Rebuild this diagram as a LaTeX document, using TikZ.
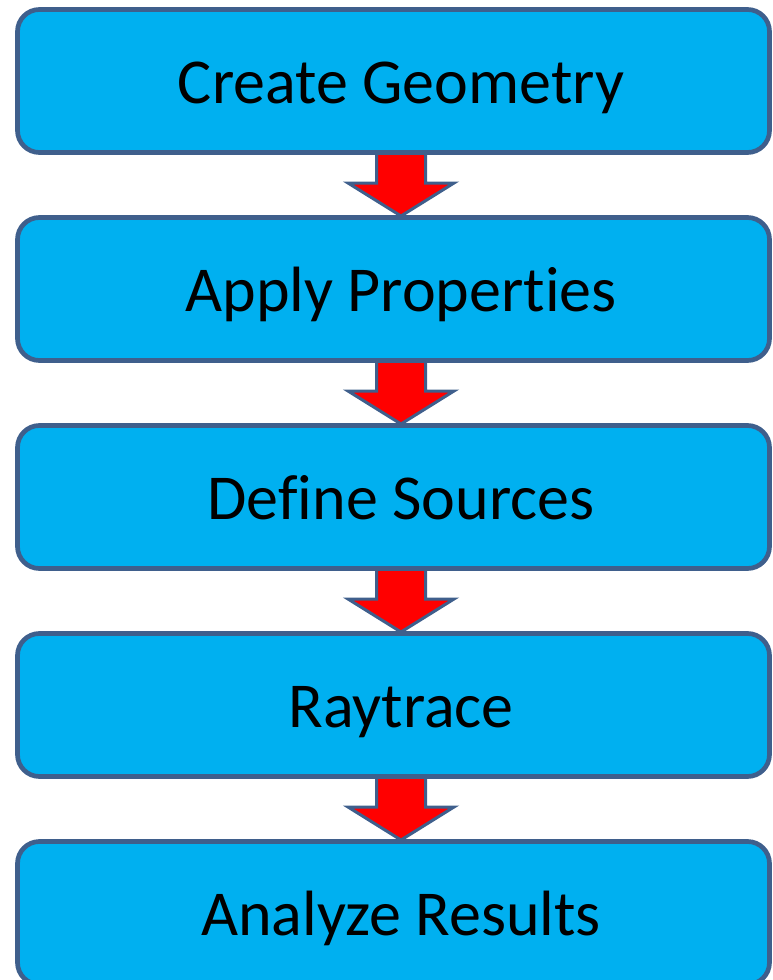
\documentclass[tikz,border=0pt]{standalone}
\usepackage{fontspec}
\setmainfont[RawFeature={-liga;-clig;-dlig;-calt;-hlig}]{Carlito}
\usetikzlibrary{calc}
\definecolor{boxfill}{HTML}{00B0F0}
\definecolor{boxline}{HTML}{3F5F8C}
\definecolor{arrred}{HTML}{FF0000}
\begin{document}
\begin{tikzpicture}[x=1pt,y=1pt,
  stepbox/.style={draw=boxline, fill=boxfill, line width=4.7pt, rounded corners=22pt,
    minimum width=752pt, minimum height=143pt, inner sep=0pt,
    font=\fontsize{64}{70}\selectfont, text height=44pt, text depth=0pt},
  flowarrow/.style={draw=boxline, fill=arrred, line width=3pt, line join=miter}]
\useasboundingbox (0,0) rectangle (772,-980);
\path (393.5,-81) coordinate (c1) (393.5,-289) coordinate (c2) (393.5,-497) coordinate (c3)
      (393.5,-705) coordinate (c4) (393.5,-913) coordinate (c5);
\foreach \i/\j in {1/2,2/3,3/4,4/5}{
  \coordinate (t\i) at ($(c\i)+(7.5,-71.5)$);
  \coordinate (h\i) at ($(c\j)+(7.5,73)$);
  \draw[flowarrow] ($(t\i)+(-24.5,0)$) -- ($(t\i)+(-24.5,-30.5)$) -- ($(t\i)+(-53,-30.5)$)
    -- (h\i) -- ($(t\i)+(53,-30.5)$) -- ($(t\i)+(24.5,-30.5)$) -- ($(t\i)+(24.5,0)$);
}
\node[stepbox] (b1) at (c1) {\hspace*{15pt}Create Geometry};
\node[stepbox] (b2) at (c2) {\hspace*{15pt}Apply Proper\kern0ptties};
\node[stepbox] (b3) at (c3) {\hspace*{15pt}Def\kern0ptine Sources};
\node[stepbox] (b4) at (c4) {\hspace*{15pt}Raytrace};
\node[stepbox] (b5) at (c5) {\hspace*{15pt}Analyze Results};
\end{tikzpicture}
\end{document}
